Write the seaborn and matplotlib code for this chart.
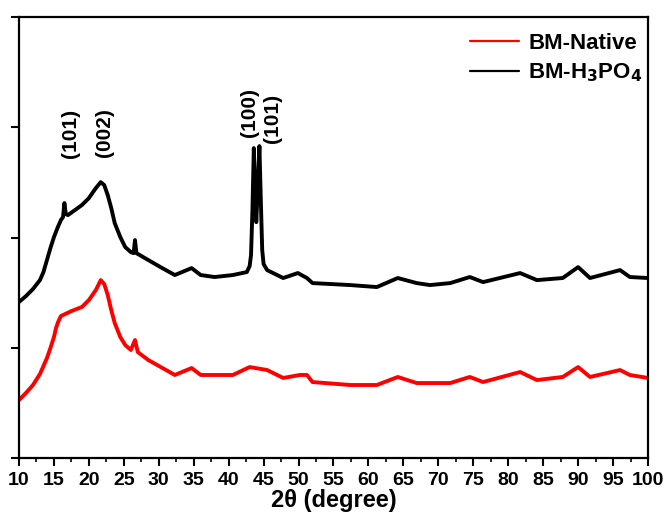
import matplotlib
matplotlib.use("Agg")
import matplotlib.pyplot as plt
from matplotlib.ticker import MultipleLocator
import pandas as pd
import seaborn as sns

# XRD patterns (2-theta in degrees, intensity in a.u., stacked with offset)
two_theta_h3po4 = [10, 11, 12, 13, 13.5, 14, 14.5, 15, 15.5, 16, 16.3, 16.5, 16.7, 17, 18,
                   19, 20, 20.5, 21, 21.7, 22.2, 22.7, 23.2, 23.7, 24.5, 25.2, 26, 26.4,
                   26.6, 26.8, 28.5, 30.5, 32.3, 34.7, 36, 38, 40.6, 42.6, 43.0, 43.2,
                   43.4, 43.6, 43.8, 43.95, 44.15, 44.4, 44.6, 44.8, 45.0, 45.5, 47.8,
                   49.9, 51.2, 52, 57.4, 61.2, 64.2, 66.9, 68.8, 71.7, 74.5, 76.4, 81.7,
                   84.1, 87.8, 90, 91.7, 96, 97.4, 100]
intensity_h3po4 = [1415, 1469, 1533, 1614, 1687, 1796, 1905, 2004, 2086, 2159, 2186, 2313,
                   2213, 2204, 2249, 2295, 2358, 2404, 2449, 2503, 2476, 2385, 2268, 2131,
                   2004, 1914, 1868, 1859, 1977, 1859, 1796, 1723, 1660, 1723, 1660, 1642,
                   1660, 1687, 1741, 1841, 2249, 2812, 2431, 2140, 2431, 2830, 2340, 1887,
                   1760, 1705, 1633, 1678, 1633, 1587, 1569, 1551, 1633, 1587, 1569, 1587,
                   1642, 1596, 1678, 1614, 1633, 1732, 1633, 1705, 1642, 1633]

two_theta_native = [10, 11, 12, 13, 13.5, 14, 14.5, 15, 15.3, 15.6, 16, 16.6, 17.5, 19,
                    20, 21, 21.7, 22.2, 22.7, 23.2, 23.7, 24.5, 25.2, 26, 26.6, 27, 28.5,
                    32.3, 34.7, 36, 40.6, 43, 45.5, 47.8, 50.2, 51.2, 52, 57.4, 61.2,
                    64.2, 66.9, 71.7, 74.5, 76.4, 81.7, 84.1, 87.8, 90, 91.7, 96, 97.4,
                    100]
intensity_native = [526, 590, 662, 762, 834, 907, 998, 1097, 1179, 1234, 1288, 1306, 1333,
                    1370, 1433, 1524, 1614, 1578, 1478, 1342, 1224, 1097, 1025, 980, 1070,
                    961, 889, 753, 816, 753, 753, 825, 798, 726, 753, 753, 689, 662, 662,
                    735, 680, 680, 735, 689, 780, 707, 735, 825, 735, 798, 753, 726]

series_names = ["BM-Native", "BM-H$_3$PO$_4$"]
peak_labels = ["(101)", "(002)", "(100)", "(101)"]
peak_label_x = [17.3, 22.3, 43.0, 46.3]
peak_label_y = [2947, 2956, 3138, 3084]

df = pd.concat([
    pd.DataFrame({"two_theta": two_theta_native, "intensity": intensity_native,
                  "sample": series_names[0]}),
    pd.DataFrame({"two_theta": two_theta_h3po4, "intensity": intensity_h3po4,
                  "sample": series_names[1]}),
])

sns.set_theme(style="ticks")
plt.rcParams["font.family"] = ["Liberation Sans", "DejaVu Sans"]
plt.rcParams["font.weight"] = "bold"
plt.rcParams["text.color"] = "black"
plt.rcParams["axes.labelcolor"] = "black"
plt.rcParams["xtick.color"] = "black"
plt.rcParams["ytick.color"] = "black"
plt.rcParams["axes.edgecolor"] = "black"
plt.rcParams["mathtext.default"] = "bf"

fig = plt.figure(figsize=(6.66, 5.21), dpi=100)
ax = fig.add_axes([0.0285, 0.121, 0.9445, 0.846])

sns.lineplot(data=df, x="two_theta", y="intensity", hue="sample",
             palette={series_names[0]: "#ff0000", series_names[1]: "#000000"},
             hue_order=series_names, linewidth=2.8, estimator=None, sort=False, ax=ax)

for lab, px, py in zip(peak_labels, peak_label_x, peak_label_y):
    ax.text(px, py, lab, rotation=90, ha="center", va="center",
            fontsize=15, fontweight="bold", color="black")

ax.set_xlim(10, 100)
ax.set_ylim(0, 4000)
ax.xaxis.set_major_locator(MultipleLocator(5))
ax.xaxis.set_minor_locator(MultipleLocator(2.5))
ax.yaxis.set_major_locator(MultipleLocator(1000))
ax.set_yticklabels([])
ax.tick_params(axis="both", which="major", direction="out", length=6, width=1.5)
ax.tick_params(axis="x", which="minor", direction="out", length=3, width=1.2)
ax.tick_params(axis="x", labelsize=14, pad=4)
for lbl in ax.get_xticklabels():
    lbl.set_fontweight("bold")
for s in ax.spines.values():
    s.set_linewidth(1.6)
    s.set_visible(True)

ax.set_xlabel("2θ (degree)", fontsize=17, fontweight="bold", labelpad=0)
ax.set_ylabel("")

leg = ax.legend(loc="upper right", frameon=False, fontsize=16,
                handlelength=2.2, handletextpad=0.4, labelspacing=0.35,
                borderaxespad=0.2, bbox_to_anchor=(1.012, 0.995))
for t in leg.get_texts():
    t.set_fontweight("bold")
for line in leg.get_lines():
    line.set_linewidth(1.6)

fig.savefig("out.png", dpi=100)
